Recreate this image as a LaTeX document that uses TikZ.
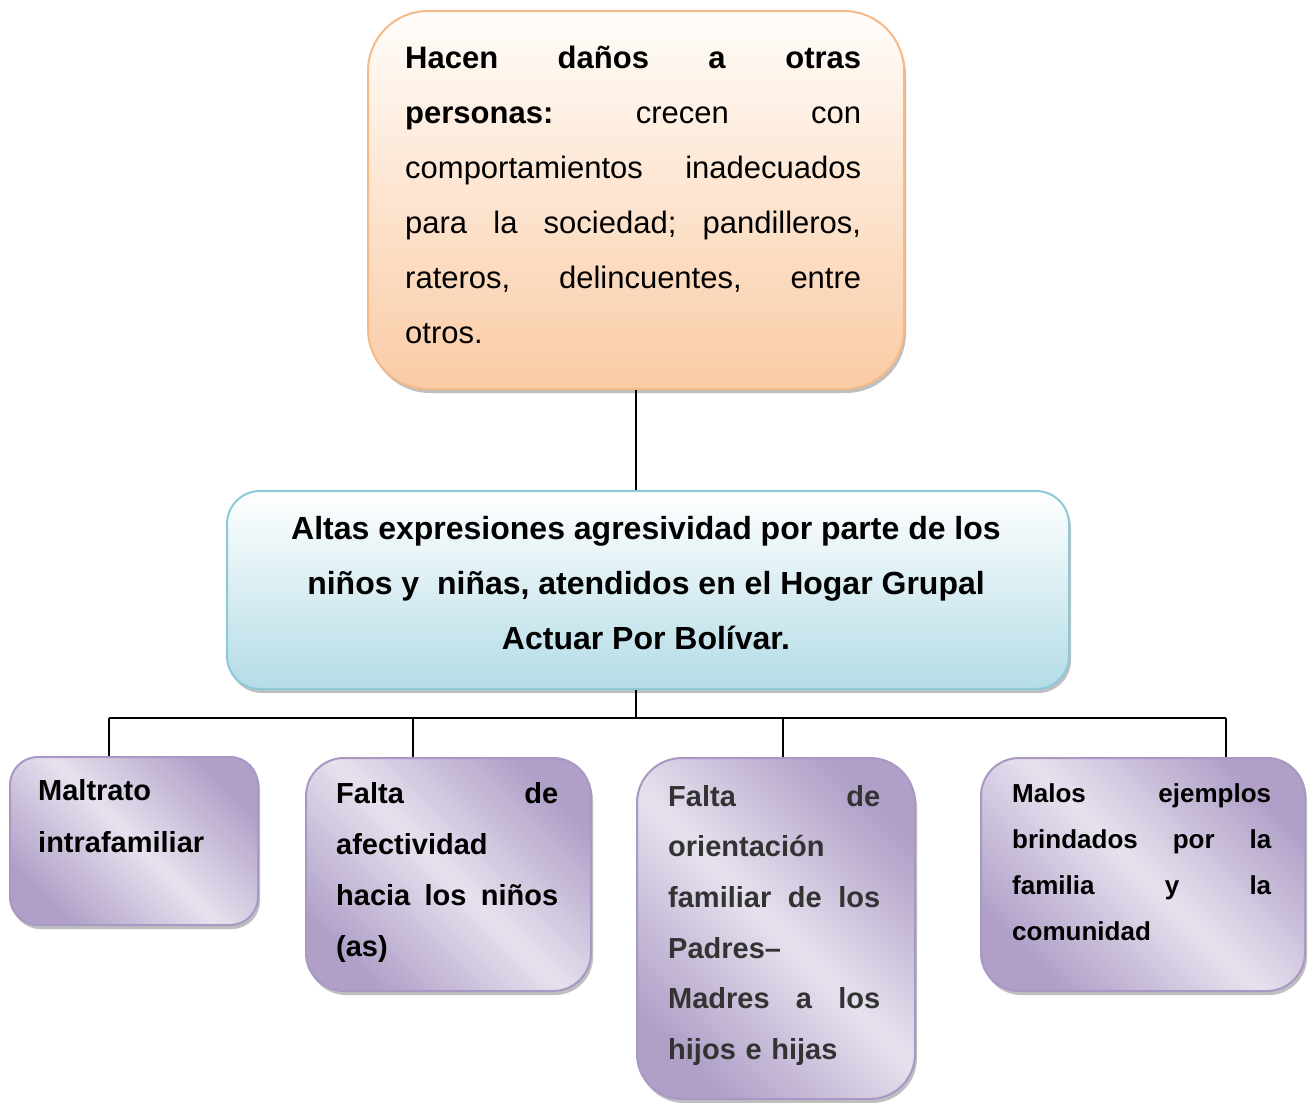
\documentclass[tikz,border=0pt]{standalone}
\usepackage{fontspec}
\setmainfont{Liberation Sans}
\usetikzlibrary{shadows}

\definecolor{naranjaClaro}{RGB}{255,253,250}
\definecolor{naranjaOscuro}{RGB}{250,203,165}
\definecolor{naranjaBorde}{RGB}{246,186,136}
\definecolor{azulOscuro}{RGB}{180,220,230}
\definecolor{azulBorde}{RGB}{140,202,218}
\definecolor{moradoOscuro}{RGB}{176,160,200}
\definecolor{moradoClaro}{RGB}{231,225,238}
\definecolor{moradoBorde}{RGB}{168,152,196}

\tikzset{
	caja/.style={draw, line width=2pt, anchor=north west, inner sep=0pt,
		drop shadow={shadow xshift=2pt, shadow yshift=-4pt, fill=black!50, opacity=.5}},
	cajaNaranja/.style={caja, draw=naranjaBorde, top color=naranjaClaro, bottom color=naranjaOscuro},
	cajaAzul/.style={caja, draw=azulBorde, top color=white, bottom color=azulOscuro, rounded corners=33pt},
	cajaMorada/.style={caja, draw=moradoBorde, left color=moradoOscuro, right color=moradoOscuro,
		middle color=moradoClaro, shading angle=135},
	texto/.style={inner sep=0pt, anchor=north west, align=left},
	linea/.style={draw=black, line width=1.8pt},
}

\begin{document}
\begin{tikzpicture}[x=1pt,y=-1pt]
	\path[use as bounding box, fill=white] (0,0) rectangle (1310,1103);
	% cajas
	\node[cajaNaranja, rounded corners=60pt, minimum width=536pt, minimum height=378pt] (danos) at (367,10) {};%caja de arriba
	\node[cajaAzul, minimum width=842pt, minimum height=198pt] (problema) at (226,490) {};%problema central
	\node[cajaMorada, rounded corners=28pt, minimum width=248pt, minimum height=168pt] (maltrato) at (9,756) {};
	\node[cajaMorada, rounded corners=38pt, minimum width=285pt, minimum height=233pt] (afecto) at (305,757) {};
	\node[cajaMorada, rounded corners=45pt, minimum width=278pt, minimum height=341pt] (orientacion) at (636,757) {};
	\node[cajaMorada, rounded corners=38pt, minimum width=324pt, minimum height=233pt] (ejemplos) at (980,757) {};
	% textos
	\node[texto, text width=456pt, font=\fontsize{31}{55}\selectfont] (tDanos) at (405,46) {%
		\textbf{Hacen}\hfill\textbf{daños}\hfill\textbf{a}\hfill\textbf{otras}\\
		\textbf{personas:}\hfill crecen\hfill con\\
		comportamientos\hfill inadecuados\\
		para\hfill la\hfill sociedad;\hfill pandilleros,\\
		rateros,\hfill delincuentes,\hfill entre\\
		otros.};
	\node[inner sep=0pt, anchor=north, align=center, font=\bfseries\fontsize{32}{55}\selectfont] (tProblema) at (646,516) {%
		Altas expresiones agresividad por parte de los\\
		niños y\ \ niñas, atendidos en el Hogar Grupal\\
		Actuar Por Bolívar.};
	\node[texto, text width=200pt, font=\bfseries\fontsize{29}{52}\selectfont] (tMaltrato) at (38,779) {%
		Maltrato\\
		intrafamiliar};
	\node[texto, text width=222pt, font=\bfseries\fontsize{29}{51}\selectfont] (tAfecto) at (336,782) {%
		Falta\hfill de\\
		afectividad\\
		hacia\hfill los\hfill niños\\
		(as)};
	\node[texto, text width=212pt, text=black!80, font=\bfseries\fontsize{29}{50.6}\selectfont] (tOrientacion) at (668,785) {%
		Falta\hfill de\\
		orientación\\
		familiar\hfill de\hfill los\\
		Padres–\\
		Madres\hfill a\hfill los\\
		hijos e hijas};
	\node[texto, text width=259pt, font=\bfseries\fontsize{26}{46}\selectfont] (tEjemplos) at (1012,783) {%
		Malos\hfill ejemplos\\
		brindados\hfill por\hfill la\\
		familia\hfill y\hfill la\\
		comunidad};
	% conectores
	\coordinate (bus) at (636,718);%punto de reparto
	\coordinate (p1) at (109,718);
	\coordinate (p2) at (413,718);
	\coordinate (p3) at (783,718);
	\coordinate (p4) at (1226,718);
	\draw[linea, line width=1.4pt] (danos.south) -- (danos.south |- problema.north);
	\draw[linea] (problema.south -| bus) -- (bus);
	\draw[linea] (p1) -- (p4);%linea horizontal
	\draw[linea] (p1) -- (p1 |- maltrato.north);
	\draw[linea] (p2) -- (p2 |- afecto.north);
	\draw[linea] (p3) -- (p3 |- orientacion.north);
	\draw[linea] (p4) -- (p4 |- ejemplos.north);
\end{tikzpicture}
\end{document}
